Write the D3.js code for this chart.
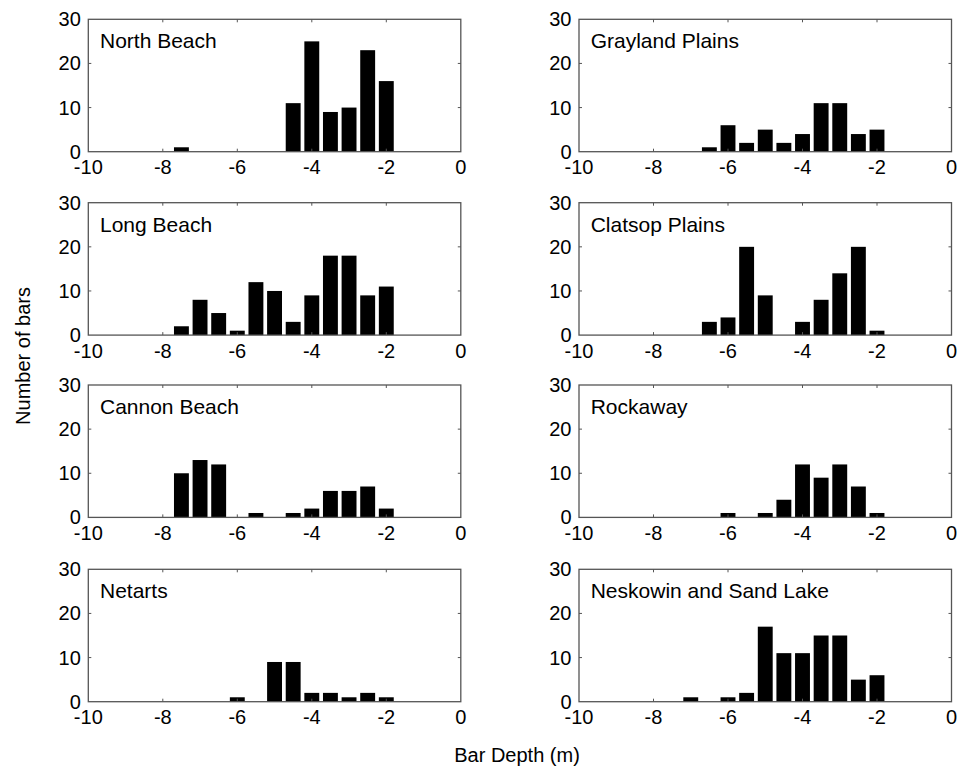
<!DOCTYPE html>
<html>
<head>
<meta charset="utf-8">
<script src="https://cdn.jsdelivr.net/npm/d3@7"></script>
<style>
  body { margin: 0; background: #fff; }
  text { font-family: "Liberation Sans", Arial, sans-serif; fill: #000; }
</style>
</head>
<body>
<svg id="chart" width="959" height="769"></svg>
<script>
// **** Data: bin centres (m) and counts per site
const bins = [-7.5, -7, -6.5, -6, -5.5, -5, -4.5, -4, -3.5, -3, -2.5, -2];
const sites = ["North Beach", "Grayland Plains", "Long Beach", "Clatsop Plains",
  "Cannon Beach", "Rockaway", "Netarts", "Neskowin and Sand Lake"];
const northBeach = [1, 0, 0, 0, 0, 0, 11, 25, 9, 10, 23, 16];
const graylandPlains = [0, 0, 1, 6, 2, 5, 2, 4, 11, 11, 4, 5];
const longBeach = [2, 8, 5, 1, 12, 10, 3, 9, 18, 18, 9, 11];
const clatsopPlains = [0, 0, 3, 4, 20, 9, 0, 3, 8, 14, 20, 1];
const cannonBeach = [10, 13, 12, 0, 1, 0, 1, 2, 6, 6, 7, 2];
const rockaway = [0, 0, 0, 1, 0, 1, 4, 12, 9, 12, 7, 1];
const netarts = [0, 0, 0, 1, 0, 9, 9, 2, 2, 1, 2, 1];
const neskowin = [0, 1, 0, 1, 2, 17, 11, 11, 15, 15, 5, 6];
const counts = [northBeach, graylandPlains, longBeach, clatsopPlains,
  cannonBeach, rockaway, netarts, neskowin];
const xTicks = [-10, -8, -6, -4, -2, 0];
const yTicks = [0, 10, 20, 30];

// **** Layout
const svg = d3.select("#chart");
const colLeft = [88.3, 579];
const rowTop = [19.3, 202.7, 385, 569.3];
const pw = 372.5;
const ph = 132.4;
const barWidth = 0.4; // in metres (80% of 0.5 m bin)

const x = d3.scaleLinear().domain([-10, 0]).range([0, pw]);
const y = d3.scaleLinear().domain([0, 30]).range([ph, 0]);

sites.forEach((name, i) => {
  const g = svg.append("g")
    .attr("transform", `translate(${colLeft[i % 2]},${rowTop[Math.floor(i / 2)]})`);

  // bars
  const data = bins.map((b, j) => ({ b: b, n: counts[i][j] })).filter(d => d.n > 0);
  g.selectAll("rect.bar")
    .data(data)
    .join("rect")
    .attr("class", "bar")
    .attr("x", d => x(d.b - barWidth / 2))
    .attr("width", x(barWidth) - x(0))
    .attr("y", d => y(d.n))
    .attr("height", d => y(0) - y(d.n))
    .attr("fill", "#000");

  // inner ticks on all four sides
  const tk = 3;
  xTicks.slice(1, -1).forEach(t => {
    g.append("line").attr("x1", x(t)).attr("x2", x(t)).attr("y1", ph).attr("y2", ph - tk)
      .attr("stroke", "#555");
    g.append("line").attr("x1", x(t)).attr("x2", x(t)).attr("y1", 0).attr("y2", tk)
      .attr("stroke", "#555");
  });
  yTicks.slice(1, -1).forEach(t => {
    g.append("line").attr("x1", 0).attr("x2", tk).attr("y1", y(t)).attr("y2", y(t))
      .attr("stroke", "#555");
    g.append("line").attr("x1", pw).attr("x2", pw - tk).attr("y1", y(t)).attr("y2", y(t))
      .attr("stroke", "#555");
  });

  // frame
  g.append("rect")
    .attr("width", pw).attr("height", ph)
    .attr("fill", "none").attr("stroke", "#555").attr("stroke-width", 1.3);

  // tick labels
  g.selectAll("text.xt")
    .data(xTicks)
    .join("text")
    .attr("class", "xt")
    .attr("x", d => x(d))
    .attr("y", ph + 22.5)
    .attr("text-anchor", "middle")
    .attr("font-size", 20)
    .text(d => d);
  g.selectAll("text.yt")
    .data(yTicks)
    .join("text")
    .attr("class", "yt")
    .attr("x", -7.5)
    .attr("y", d => y(d) + 7)
    .attr("text-anchor", "end")
    .attr("font-size", 20)
    .text(d => d);

  // site name
  g.append("text")
    .attr("x", 11.7)
    .attr("y", 29)
    .attr("font-size", 21)
    .text(name);
});

// **** Axis titles
svg.append("text")
  .attr("transform", "translate(30,356) rotate(-90)")
  .attr("text-anchor", "middle")
  .attr("font-size", 20)
  .text("Number of bars");

svg.append("text")
  .attr("x", 517)
  .attr("y", 762)
  .attr("text-anchor", "middle")
  .attr("font-size", 20)
  .text("Bar Depth (m)");
</script>
</body>
</html>
